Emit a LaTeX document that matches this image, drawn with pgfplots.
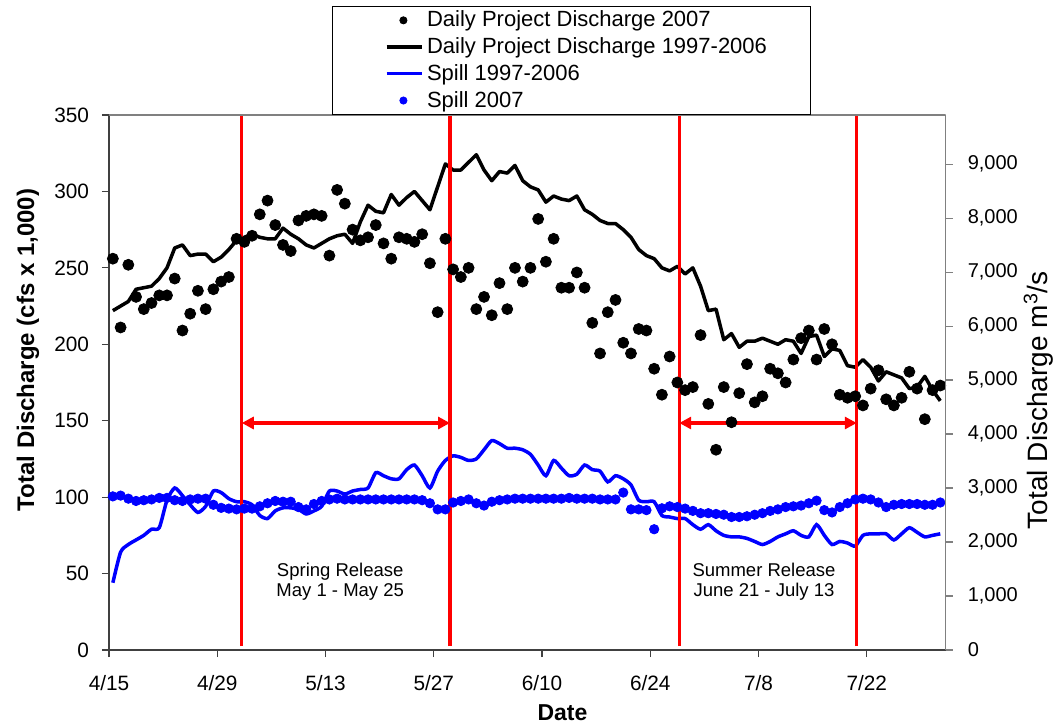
\documentclass[border=0pt]{standalone}
\usepackage{pgfplots}
\pgfplotsset{compat=1.18}
\usepackage{pgfplotstable}
\usepackage{fontspec}
\setmainfont{Liberation Sans}
\usetikzlibrary{arrows.meta}

\pgfplotstableread{
i dot line spl spd
0 256 222 44 100.5
1 211 225 64 101
2 252 228 69 99
3 231 236 72 97.5
4 223 237 75 98
5 227 238 79 98.5
6 232 243 80 99.5
7 232 250 98 99.5
8 243 263 106 98
9 209 265 101 97.5
10 220 258 95 98.5
11 235 259 90 99
12 223 259 94 99
13 236 254 104 95
14 241 257 103 93
15 244 262 99 92.5
16 269 268 97 92
17 267 270 97 92.5
18 271 272 95 92.5
19 285 270 88 94
20 294 269 86 96
21 278 269 91 97.5
22 265 276 93 97
23 261 272 93 97
24 281 269 92 93.5
25 284 265 89 92
26 285 263 91 95.5
27 284 266 94 97.5
28 258 269 104 98.5
29 301 271 104 99
30 292 272 102 98.5
31 275 266 104 98.5
32 268 280 105 98.5
33 270 291 106 98.5
34 278 287 116 98.5
35 266 286 114 98.5
36 256 298 112 98.5
37 270 291 112 98.5
38 269 296 118 98.5
39 267 300 121 98.5
40 272 294 114 98
41 253 288 106 96
42 221 303 117 92
43 269 318 124 92
44 249 314 127 96.5
45 244 314 126 97.5
46 250 319 124 98.5
47 223 324 125 96
48 231 314 131 94.5
49 219 307 137 97
50 240 313 135 98
51 223 312 132 98.5
52 250 317 132 99
53 241 307 131 99
54 250 303 128 99
55 282 301 121 99
56 254 293 114 99
57 269 297 124 99
58 237 295 119 99
59 237 294 114 99.5
60 247 297 115 99
61 237 288 121 99
62 214 285 118 99
63 194 281 117 98.5
64 221 279 110 98.5
65 229 279 114 98.5
66 201 275 112 103
67 194 270 108 92
68 210 262 98 92
69 209 258 97 91.5
70 184 256 97 79
71 167 250 88 92.7
72 192 248 87 94
73 175 251 86 93.5
74 170 246 86 92.5
75 172 250 82 91
76 206 238 79 89.5
77 161 222 82 89.5
78 131 223 78 89
79 172 203 75 88.5
80 149 207 74 87
81 168 198 74 87
82 187 202 73 87.5
83 162 202 71 88.5
84 166 204 69 89.5
85 184 202 71 91
86 181 200 74 92
87 175 203 76 93.5
88 190 202 78 94
89 204 194 75 94.5
90 209 205 74 96
91 190 206 82 97.7
92 210 192 75 91.5
93 200 197 69 90
94 167 196 71 93.5
95 165 186 70 96
96 166 185 68 98.5
97 160 190 75 99
98 171 185 76 98.5
99 183 176 76 96.5
100 164 182 76 93.5
101 160 180 72 95
102 165 178 76 95.5
103 182 171 80 95.5
104 171 172 77 95.5
105 151 179 74 95
106 170 170 75 95
107 173 163 76 96.5
}\data

\begin{document}
\begin{tikzpicture}
\useasboundingbox (-54.5bp,-39bp) rectangle (472bp,325bp);
\begin{axis}[
  at={(0,0)}, anchor=south west,
  scale only axis, width=418.35bp, height=267.5bp,
  xmin=0, xmax=108.2, ymin=0, ymax=350,
  axis lines*=left,
  axis line style={black!75, line width=0.6bp},
  xtick={0,14,28,42,56,70,84,98},
  xticklabels={4/15,4/29,5/13,5/27,6/10,6/24,7/8,7/22},
  ytick={0,50,100,150,200,250,300,350},
  tick align=outside, major tick length=3.5bp,
  tick style={black!75, line width=0.6bp},
  /pgf/number format/assume math mode=true,
  ticklabel style={font=\fontsize{10.4bp}{12bp}\selectfont},
  xticklabel style={yshift=-5.5bp},
  yticklabel style={xshift=-3bp},
  xlabel={Date},
  xlabel style={at={(axis description cs:0.542,-0.118)}, anchor=center, font=\bfseries\fontsize{11.5bp}{13bp}\selectfont},
  ylabel={Total Discharge (cfs x 1,000)},
  ylabel style={at={(axis description cs:-0.0968,0.561)}, anchor=center, rotate=0, font=\bfseries\fontsize{12bp}{14bp}\selectfont},
  legend style={at={(axis description cs:0.266,1)}, anchor=south west,
    draw=black, fill=white, inner xsep=21.5bp, inner ysep=2bp,
    row sep=3.3bp, font=\fontsize{11bp}{13bp}\selectfont,
    nodes={inner sep=0.3bp}},
  legend cell align=left,
]
\addplot[only marks, mark=*, mark size=2.75bp, black,
  legend image code/.code={\path (-5bp,0) (19bp,0); \fill[black] (8.35bp,0) circle (1.8bp);}]
  table[x expr=\thisrow{i}+0.5, y=dot] {\data};
\addlegendentry{Daily Project Discharge 2007}
\addplot[black, line width=1.75bp, line join=round, mark=none,
  legend image code/.code={\path (-5bp,0) (19bp,0); \draw[black, line width=1.6bp] (0bp,0) -- (17.5bp,0);}]
  table[x expr=\thisrow{i}+0.5, y=line] {\data};
\addlegendentry{Daily Project Discharge 1997-2006}
\addplot[blue, line width=1.75bp, smooth, tension=0.4, mark=none,
  legend image code/.code={\path (-5bp,0) (19bp,0); \draw[blue, line width=1.6bp] (0bp,0) -- (17.5bp,0);}]
  table[x expr=\thisrow{i}+0.5, y=spl] {\data};
\addlegendentry{Spill 1997-2006}
\addplot[only marks, mark=*, mark size=2.35bp, blue,
  legend image code/.code={\path (-5bp,0) (19bp,0); \fill[blue] (8.35bp,0) circle (1.8bp);}]
  table[x expr=\thisrow{i}+0.5, y=spd] {\data};
\addlegendentry{Spill 2007}

\addplot[red, line width=1.7bp, forget plot] coordinates {(17.17,2.6) (17.17,350)};
\addplot[red, line width=1.7bp, forget plot] coordinates {(44.1,2.6) (44.1,350)};
\addplot[red, line width=1.7bp, forget plot] coordinates {(73.74,2.6) (73.74,350)};
\addplot[red, line width=1.7bp, forget plot] coordinates {(96.7,2.6) (96.7,350)};
\draw[red, line width=1.7bp, {Triangle[length=6bp,width=6bp]}-{Triangle[length=6bp,width=6bp]}]
  (axis cs:17.17,148.5) -- (axis cs:44.1,148.5);
\draw[red, line width=1.7bp, {Triangle[length=6bp,width=6bp]}-{Triangle[length=6bp,width=6bp]}]
  (axis cs:73.74,148.5) -- (axis cs:96.7,148.5);
\node[align=center, font=\fontsize{9.25bp}{10bp}\selectfont] at (axis cs:29.9,44.5) {Spring Release\\May 1 - May 25};
\node[align=center, font=\fontsize{9.25bp}{10bp}\selectfont] at (axis cs:84.7,44.5) {Summer Release\\June 21 - July 13};
\draw[black!50, line width=0.6bp] (rel axis cs:0,1) -- (rel axis cs:1,1);
\end{axis}
\begin{axis}[
  at={(0,0)}, anchor=south west,
  scale only axis, width=418.35bp, height=267.5bp,
  xmin=0, xmax=108.2, ymin=0, ymax=9910.9,
  axis x line=none, axis y line*=right,
  axis line style={black!50, line width=0.6bp},
  ytick={0,1000,2000,3000,4000,5000,6000,7000,8000,9000},
  scaled y ticks=false,
  tick align=outside, major tick length=3.5bp,
  tick style={black!50, line width=0.6bp},
  /pgf/number format/assume math mode=true,
  /pgf/number format/1000 sep={,},
  ticklabel style={font=\fontsize{10bp}{12bp}\selectfont},
  yticklabel style={xshift=4bp},
  ylabel={Total Discharge m\textsuperscript{3}/s},
  ylabel style={at={(axis description cs:1.111,0.467)}, anchor=center, rotate=0, font=\fontsize{14bp}{16bp}\selectfont},
]
\end{axis}
\end{tikzpicture}
\end{document}
